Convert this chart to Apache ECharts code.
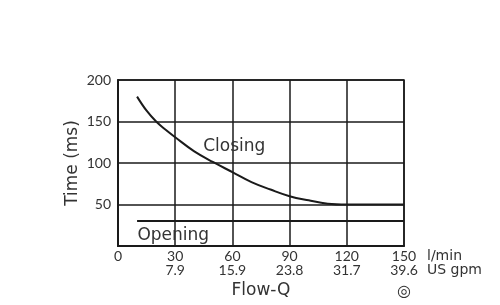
<!DOCTYPE html>
<html><head><meta charset="utf-8">
<script src="https://cdn.jsdelivr.net/npm/echarts@6/dist/echarts.min.js"></script>
<style>html,body{margin:0;padding:0;background:#fff}#c{width:500px;height:305px}</style>
</head><body><div id="c"></div>
<script>
const flowTicks = [0, 30, 60, 90, 120, 150];
const gpmLabels = ['', '7.9', '15.9', '23.8', '31.7', '39.6'];
const closingFlow = [10, 15, 20, 25, 30, 40, 50, 60, 70, 80, 90, 100, 110, 120, 150];
const closingTime = [180, 163, 150, 140, 131, 114, 101, 89, 77, 68, 60, 55, 51, 50, 50];
const openingFlow = [10, 150];
const openingTime = [30, 30];
const FONT = 'Lato, "DejaVu Sans", sans-serif';
const WIDE = '"DejaVu Sans", sans-serif';
const ink = '#1a1a1a';
const txt = '#333';

const chart = echarts.init(document.getElementById('c'), null, {renderer: 'canvas'});
chart.setOption({
  animation: false,
  backgroundColor: '#fff',
  grid: {left: 118, right: 96, top: 80, bottom: 59, show: true, borderColor: ink, borderWidth: 1.5},
  xAxis: {
    type: 'value', min: 0, max: 150, interval: 30,
    name: 'Flow-Q', nameLocation: 'middle', nameGap: 36,
    nameTextStyle: {fontFamily: WIDE, fontSize: 17, color: txt},
    axisLine: {lineStyle: {color: ink, width: 2}},
    axisTick: {show: false},
    splitLine: {lineStyle: {color: ink, width: 1.5}},
    axisLabel: {
      fontFamily: FONT, fontSize: 14, color: txt, margin: 3, lineHeight: 14,
      formatter: function (v) { const i = flowTicks.indexOf(v); return v + '\n' + (i >= 0 ? gpmLabels[i] : ''); }
    }
  },
  yAxis: {
    type: 'value', min: 0, max: 200, interval: 50,
    name: 'Time (ms)', nameLocation: 'middle', nameGap: 37, nameMoveOverlap: false,
    nameTextStyle: {fontFamily: WIDE, fontSize: 17, color: txt},
    axisLine: {lineStyle: {color: ink, width: 2}},
    axisTick: {show: false},
    splitLine: {lineStyle: {color: ink, width: 1.5}},
    axisLabel: {
      fontFamily: FONT, fontSize: 14, color: txt, margin: 7,
      formatter: function (v) { return v === 0 ? '' : String(v); }
    }
  },
  series: [
    {
      type: 'line', name: 'Closing', smooth: 0.4, symbol: 'none',
      lineStyle: {color: ink, width: 2},
      data: closingFlow.map((f, i) => [f, closingTime[i]]),
      markPoint: {
        symbol: 'circle', symbolSize: 0,
        label: {show: true, formatter: 'Closing', fontFamily: WIDE, fontSize: 17, color: txt},
        data: [{coord: [61, 120]}]
      }
    },
    {
      type: 'line', name: 'Opening', symbol: 'none',
      lineStyle: {color: ink, width: 2},
      data: openingFlow.map((f, i) => [f, openingTime[i]]),
      markPoint: {
        symbol: 'circle', symbolSize: 0,
        label: {show: true, formatter: 'Opening', fontFamily: WIDE, fontSize: 17, color: txt},
        data: [{coord: [29, 12]}]
      }
    }
  ],
  graphic: [
    {type: 'text', left: 427, top: 249, style: {text: 'l/min\nUS gpm', font: '14px ' + WIDE, fill: txt, lineHeight: 14}},
    {type: 'text', left: 397, top: 284, style: {text: '◎', font: '16px ' + WIDE, fill: txt}}
  ]
});
</script></body></html>
